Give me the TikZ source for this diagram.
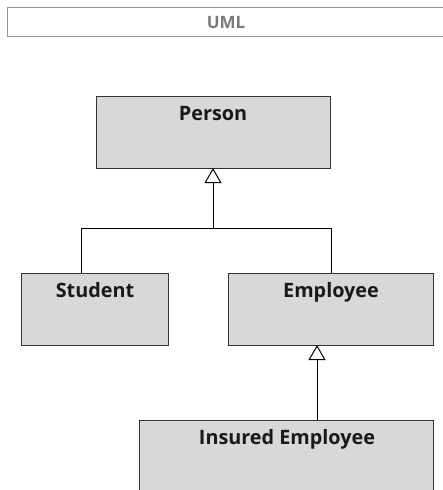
\documentclass[tikz,border=0pt]{standalone}
\usepackage{fontspec}
\setmainfont{Open Sans}
\usetikzlibrary{arrows.meta}
\definecolor{boxfill}{HTML}{D8D8D8}
\definecolor{boxline}{HTML}{333333}
\definecolor{titlegray}{HTML}{7A7A7A}
\tikzset{
  classbox/.style={draw=boxline, fill=boxfill, line width=1pt},
  classname/.style={font=\fontsize{19.8}{22}\selectfont\bfseries, text=black!90, inner sep=0pt, anchor=base},
  inherit/.style={draw=black, line width=0.9pt, -{Triangle[open, length=15pt, width=17pt, line width=1pt]}},
  plain/.style={draw=black, line width=0.9pt},
}
\begin{document}
\begin{tikzpicture}[x=1pt,y=-1pt]
\useasboundingbox (0,0) rectangle (443,490);
\clip (0,0) rectangle (443,490);
% title bar
\draw[draw=titlegray!80, line width=0.8pt] (7,7) rectangle (446,36);
\node[font=\fontsize{17}{19}\selectfont\bfseries, text=titlegray, inner sep=0pt, anchor=base] (uml) at (226,28) {UML};
% boxes
\path[classbox] (96,96) rectangle (330,168);
\coordinate (personb) at (213,168);
\node[classname] (person) at (213,120) {Person};
\path[classbox] (21,273) rectangle (168,345);
\node[classname] (student) at (95,297) {Student};
\path[classbox] (228,273) rectangle (433,345);
\coordinate (empb) at (317,345);
\node[classname] (employee) at (331,297) {Employee};
\path[classbox] (139,420) rectangle (433,500);
\node[classname] (insured) at (287,444) {Insured Employee};
% connectors
\coordinate (j) at (213,228);
\coordinate (jl) at (81,228);
\coordinate (jr) at (331,228);
\coordinate (st) at (81,273);
\coordinate (et) at (331,273);
\coordinate (it) at (317,420);
\draw[inherit] (j) -- (personb);
\draw[plain] (st) -- (jl) -- (jr) -- (et);
\draw[inherit] (it) -- (empb);
\end{tikzpicture}
\end{document}
